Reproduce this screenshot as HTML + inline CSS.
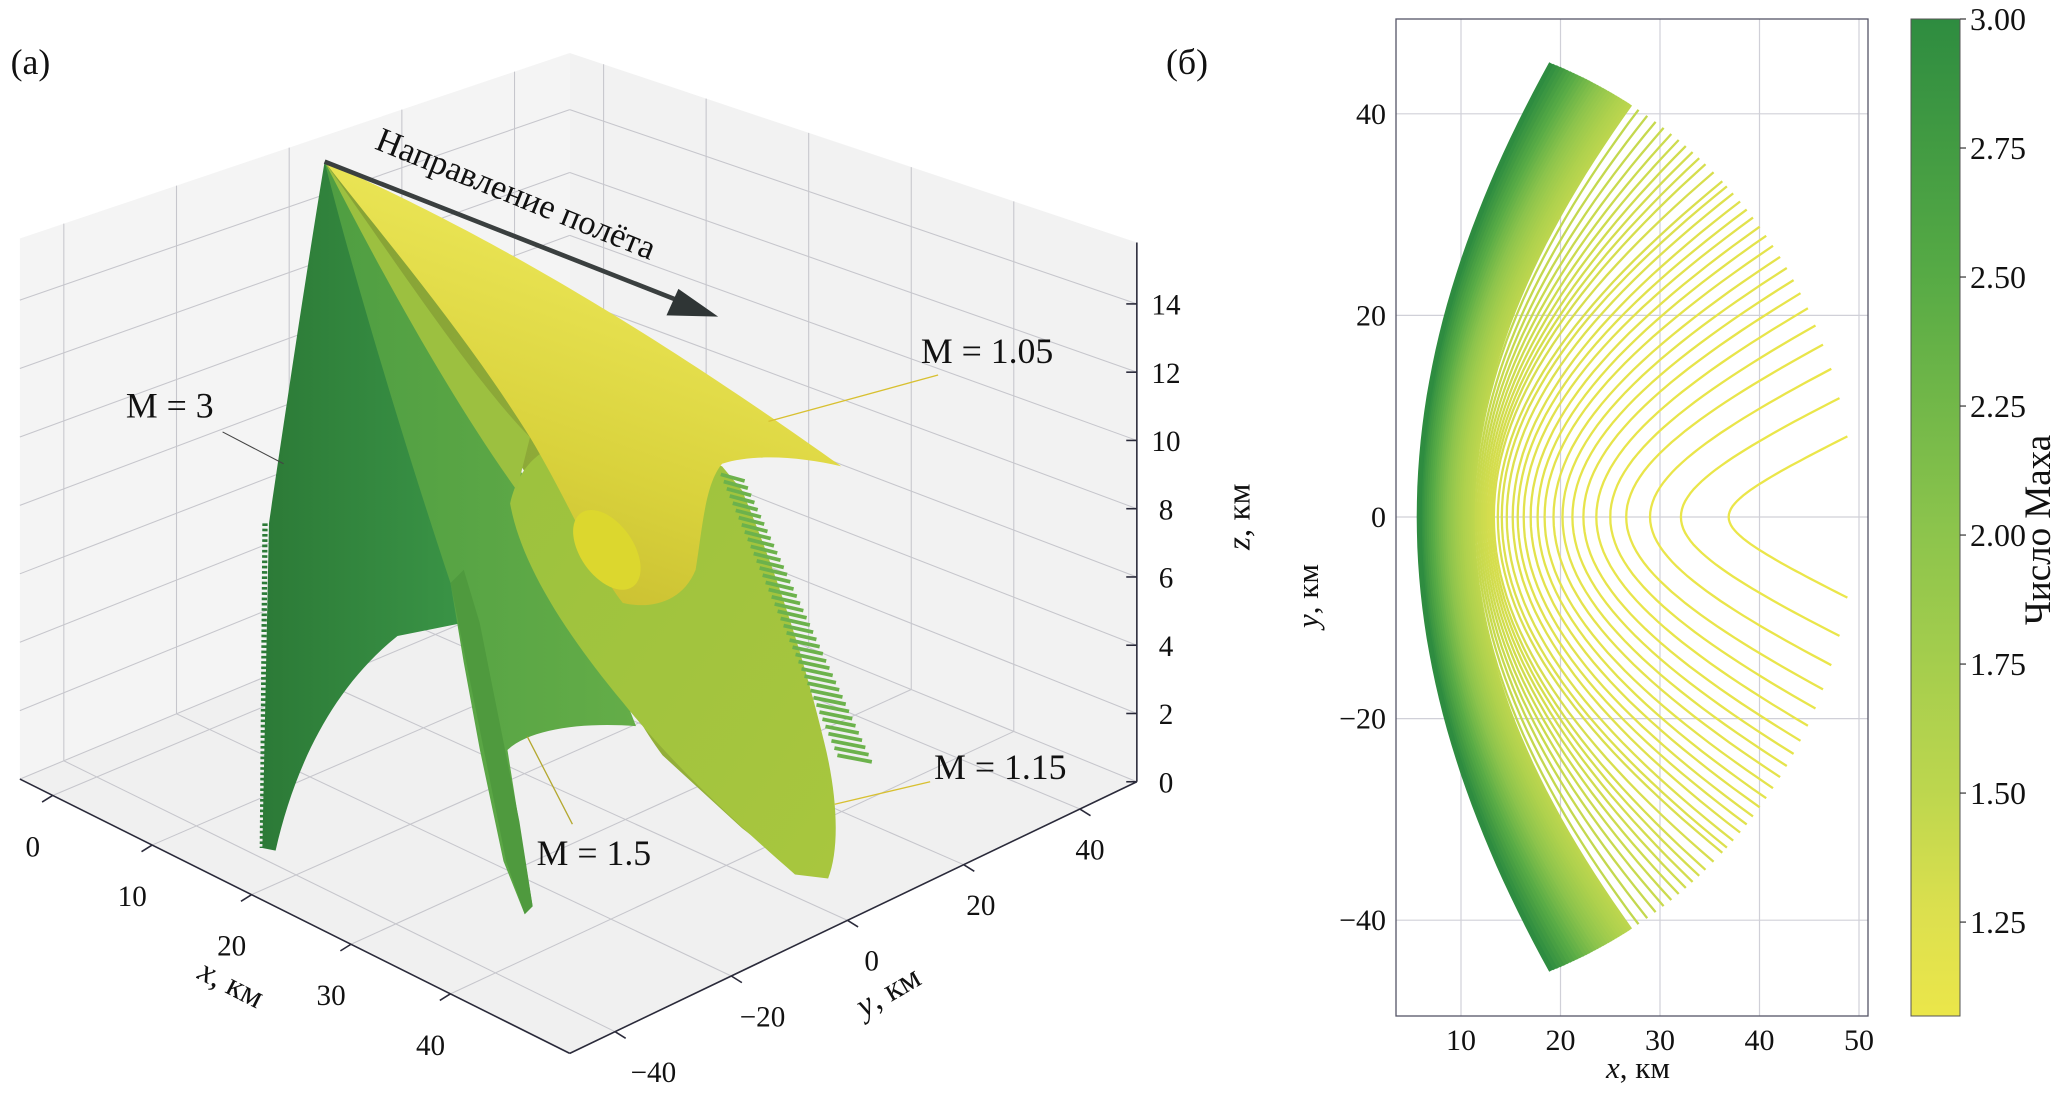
<!DOCTYPE html>
<html><head><meta charset="utf-8">
<style>
html,body{margin:0;padding:0;background:#fff;}
svg{display:block;font-family:"Liberation Serif",serif;}
</style></head>
<body>
<svg id="root" width="2067" height="1099" viewBox="0 0 2067 1099" xmlns="http://www.w3.org/2000/svg">
<defs>
<linearGradient id="gDark" x1="0" y1="0" x2="1" y2="0"><stop offset="0" stop-color="#2c7a37"/><stop offset="1" stop-color="#3a9446"/></linearGradient>
<linearGradient id="gMed" x1="0" y1="0" x2="1" y2="0"><stop offset="0" stop-color="#4f9e42"/><stop offset="1" stop-color="#64ad48"/></linearGradient>
<linearGradient id="gOlive" x1="0" y1="0" x2="1" y2="0"><stop offset="0" stop-color="#86a236"/><stop offset="1" stop-color="#98b43a"/></linearGradient>
<linearGradient id="gLight" x1="0" y1="0" x2="1" y2="1"><stop offset="0" stop-color="#9cc23e"/><stop offset="1" stop-color="#a8c63e"/></linearGradient>
<linearGradient id="gYel" x1="0" y1="1" x2="0.4" y2="0"><stop offset="0" stop-color="#c2b62c"/><stop offset="0.45" stop-color="#d9d23c"/><stop offset="1" stop-color="#efea5c"/></linearGradient>
<linearGradient id="gBar" x1="0" y1="1" x2="0" y2="0">
<stop offset="0" stop-color="#ebe64a"/><stop offset="0.0994" stop-color="#dde04e"/><stop offset="0.2288" stop-color="#bcd64e"/><stop offset="0.4876" stop-color="#8cc44c"/><stop offset="0.7464" stop-color="#56aa45"/><stop offset="1" stop-color="#2e8c40"/></linearGradient>
</defs>

<g id="left" transform="scale(1.325)">
  <g id="panes"></g>
  <g id="grid3d"></g>
  <g id="surfaces">
    <path fill="url(#gDark)" d="M245,122 C232,200 214,320 203,395 L198,640 L208,642 C222,580 250,520 300,480 L350,470 C330,380 300,250 245,122 Z"/>
    <path fill="none" stroke="#2c7a37" stroke-width="4" stroke-dasharray="2 2" d="M200,395 L198,640"/>
    <path fill="url(#gMed)" d="M245,122 C262,190 300,320 340,440 L350,500 L362,565 L380,650 L396,690 L402,684 L390,610 L383,566 C400,550 440,545 480,548 C450,470 410,380 330,240 Z"/>
    <path fill="#4f9a3e" d="M340,440 L352,500 L365,565 L382,650 L396,690 L402,684 L392,620 L380,560 L362,470 L350,430 Z"/>
    <path fill="url(#gOlive)" d="M245,122 C300,210 380,320 420,400 C445,470 470,530 500,570 L560,625 L605,660 L622,642 C560,560 500,470 460,380 C420,300 330,200 245,122 Z"/>
    <path fill="url(#gLight)" d="M385,380 C392,420 420,470 470,530 C510,580 560,625 600,660 L625,663 C634,640 632,600 622,560 C605,490 585,430 560,370 L545,352 C520,340 470,332 440,330 C410,335 392,350 385,380 Z"/>
    <path fill="#9cc040" d="M245,122 C300,200 360,290 400,330 L390,370 C340,300 290,210 245,122 Z"/>
    <path fill="url(#gYel)" d="M245,122 C330,160 450,220 635,352 C605,345 570,342 545,350 C532,365 530,400 525,430 C515,455 490,460 470,455 C450,430 430,380 400,330 C350,250 290,180 245,122 Z"/>
    <ellipse cx="458" cy="415" rx="20" ry="34" transform="rotate(-35 458 415)" fill="#dcd72e"/>
    <g id="hatch"></g>
  </g>
  <g id="axes3d"></g>
  <line x1="245" y1="122" x2="520" y2="230" stroke="#3a3f3f" stroke-width="3.5"/>
  <polygon points="542,239 503,238 512,218" fill="#2f3535"/>
  <text x="282" y="112" font-size="26" transform="rotate(22 282 112)" fill="#111">Направление полёта</text>
  <line x1="168" y1="326" x2="214" y2="350" stroke="#444" stroke-width="0.8"/>
  <line x1="580" y1="318" x2="708" y2="283" stroke="#d8c030" stroke-width="1"/>
  <line x1="630" y1="607" x2="702" y2="590" stroke="#d8c030" stroke-width="1"/>
  <line x1="398" y1="556" x2="432" y2="622" stroke="#b4a830" stroke-width="1"/>
  <text x="95" y="315" font-size="27" fill="#111">M = 3</text>
  <text x="695" y="274" font-size="27" fill="#111">M = 1.05</text>
  <text x="705" y="588" font-size="27" fill="#111">M = 1.15</text>
  <text x="405" y="653" font-size="27" fill="#111">M = 1.5</text>
  <text x="8" y="56" font-size="27" fill="#111">(а)</text>
  <text x="880" y="56" font-size="27" fill="#111">(б)</text>
  <text x="148" y="738" font-size="25" transform="rotate(27 148 738)" fill="#111"><tspan font-style="italic">x</tspan>, км</text>
  <text x="652" y="768" font-size="25" transform="rotate(-30 652 768)" fill="#111"><tspan font-style="italic">y</tspan>, км</text>
  <text x="943" y="390" font-size="25" text-anchor="middle" transform="rotate(-90 943 390)" fill="#111"><tspan font-style="italic">z</tspan>, км</text>
</g>

<g id="right">
  <rect x="1396" y="19" width="472" height="997" fill="#fff"/>
  <g id="grid2d"></g>
  <g id="curves"></g>
  <rect x="1396" y="19" width="472" height="997" fill="none" stroke="#556" stroke-width="1.3"/>
  <g id="ticks2d"></g>
  <text x="1638" y="1078" font-size="31" text-anchor="middle" fill="#111"><tspan font-style="italic">x</tspan>, км</text>
  <text x="1318" y="596" font-size="31" text-anchor="middle" transform="rotate(-90 1318 596)" fill="#111"><tspan font-style="italic">y</tspan>, км</text>
  <rect x="1911" y="19" width="49" height="997" fill="url(#gBar)" stroke="#555" stroke-width="1"/>
  <g id="cbticks"></g>
  <text x="2050" y="530" font-size="37" text-anchor="middle" transform="rotate(-90 2050 530)" fill="#111">Число Маха</text>
</g>
</svg>

<script>
// ---------- right panel data ----------
const vertexX = [5.8,5.95,6.1,6.3,6.5,6.7,6.9,7.1,7.3,7.5,7.7,7.9,8.1,8.3,8.5,8.7,8.9,9.1,9.3,9.5,9.7,9.9,10.1,10.3,10.5,10.7,10.9,11.1,11.3,11.5,11.7,11.9,12.1,12.3,12.5,12.7,12.9,13.1,13.3,13.7,14.1,14.6,15.2,15.7,16.3,17.0,17.7,18.4,19.3,20.2,21.2,22.3,23.6,25.0,26.6,29.0,32.1,36.9];
const endY = [45,44.85,44.7,44.55,44.4,44.25,44.1,43.95,43.8,43.65,43.5,43.35,43.2,43.05,42.9,42.75,42.6,42.45,42.3,42.15,42.0,41.85,41.7,41.55,41.4,41.25,41.1,40.95,40.4,39.8,39.2,38.6,38.0,37.4,36.8,36.2,35.6,35.0,34.2,33.3,32.8,32.1,31.3,30.5,29.7,28.8,27.9,26.9,25.8,24.7,23.5,22.2,20.7,19.0,17.1,14.7,11.8,8.0];
const mach = [3.0,2.92,2.84,2.76,2.68,2.6,2.53,2.46,2.39,2.32,2.25,2.19,2.13,2.07,2.01,1.96,1.91,1.86,1.81,1.77,1.73,1.69,1.65,1.61,1.58,1.55,1.52,1.49,1.46,1.44,1.42,1.40,1.38,1.36,1.34,1.32,1.31,1.30,1.29,1.27,1.25,1.23,1.21,1.19,1.18,1.17,1.16,1.15,1.14,1.13,1.12,1.11,1.10,1.09,1.08,1.07,1.06,1.05];
const xTicks = [10,20,30,40,50];
const yTicks = [40,20,0,-20,-40];
const cbTicks = [3.00,2.75,2.50,2.25,2.00,1.75,1.50,1.25];
const xTicks3d = [0,10,20,30,40];
const yTicks3d = [-40,-20,0,20,40];
const zTicks3d = [0,2,4,6,8,10,12,14];

const NS = "http://www.w3.org/2000/svg";
function mk(tag, attrs, parent){const e=document.createElementNS(NS,tag);for(const k in attrs)e.setAttribute(k,attrs[k]);parent.appendChild(e);return e;}

const sx = x => 1461 + (x-10)*9.95;
const sy = y => 517 - y*10.08;
const cbMin = 1.068, cbMax = 3.0;
const cy = m => 19 + (cbMax-m)/(cbMax-cbMin)*997;

const stops = [[1.05,[235,230,74]],[1.25,[221,224,78]],[1.5,[188,214,78]],[2.0,[140,196,76]],[2.5,[86,170,69]],[3.0,[46,140,64]]];
function cmap(m){
  for(let i=0;i<stops.length-1;i++){
    const a=stops[i],b=stops[i+1];
    if(m<=b[0]){const t=Math.max(0,(m-a[0])/(b[0]-a[0]));return 'rgb('+a[1].map((c,j)=>Math.round(c+(b[1][j]-c)*t)).join(',')+')';}
  }
  return 'rgb(46,140,64)';
}

const grid2d=document.getElementById('grid2d');
xTicks.forEach(v=>{
  const l=mk('line',{x1:sx(v),x2:sx(v),y1:19,y2:1016,stroke:'#d0d0d8','stroke-width':1.2},grid2d);
  
  
});
yTicks.forEach(v=>{
  const l=mk('line',{x1:1396,x2:1868,y1:sy(v),y2:sy(v),stroke:'#d0d0d8','stroke-width':1.2},grid2d);
  
  
});

const curves=document.getElementById('curves');
const R=48.5, cx0=1.0;
for(let i=vertexX.length-1;i>=0;i--){
  const xv=vertexX[i], ye=endY[i];
  const xe=cx0+Math.sqrt(R*R-ye*ye);
  const b=ye*(0.375+(ye-8)/37*1.6);
  const f=y=>Math.sqrt(1+(y/b)*(y/b))-1;
  const fe=f(ye);
  let d='';
  for(let k=0;k<=60;k++){
    const y=-ye+2*ye*k/60;
    const x=xv+(xe-xv)*f(y)/fe;
    d+=(k?'L':'M')+sx(x).toFixed(1)+','+sy(y).toFixed(1);
  }
  const p=mk('path',{d:d,fill:'none',stroke:cmap(mach[i]),'stroke-width':i<28?5:2.3},curves);
  
  
}

const ticks2d=document.getElementById('ticks2d');
xTicks.forEach(v=>{
  const t=mk('text',{x:sx(v),y:1050,'font-size':30,'text-anchor':'middle',fill:'#111'},ticks2d);t.textContent=v;
  
  
});
yTicks.forEach(v=>{
  const t=mk('text',{x:1386,y:sy(v)+10,'font-size':30,'text-anchor':'end',fill:'#111'},ticks2d);t.textContent=(v<0?'−':'')+Math.abs(v);
  
  
});
const cbt=document.getElementById('cbticks');
cbTicks.forEach(v=>{
  const l=mk('line',{x1:1960,x2:1966,y1:cy(v),y2:cy(v),stroke:'#333','stroke-width':1.2},cbt);
  
  
  const t=mk('text',{x:1970,y:cy(v)+11,'font-size':32,fill:'#111'},cbt);t.textContent=v.toFixed(2);
  
  
});

// ---------- 3D projection (preview units) ----------
const xr=[-3.3,52], yr=[-47.8,49.8], zmax=15.8;
const B00=[15,588],B10=[430,795],B11=[858,590],B01=[430,415];
const T00=[15,180],T10=[430,345],T11=[858,183],T01=[430,40];
function bil(a,b,c,d,u,v){return [a[0]*(1-u)*(1-v)+b[0]*u*(1-v)+d[0]*u*v+c[0]*(1-u)*v, a[1]*(1-u)*(1-v)+b[1]*u*(1-v)+d[1]*u*v+c[1]*(1-u)*v];}
function P(x,y,z){
  const u=(x-xr[0])/(xr[1]-xr[0]), v=(y-yr[0])/(yr[1]-yr[0]), w=z/zmax;
  const bt=bil(B00,B10,B01,B11,u,v), tp=bil(T00,T10,T01,T11,u,v);
  return [bt[0]+(tp[0]-bt[0])*w, bt[1]+(tp[1]-bt[1])*w];
}
const panes=document.getElementById('panes');
function poly(pts,fill,name){
  const e=mk('polygon',{points:pts.map(p=>p.join(',')).join(' '),fill:fill},panes);
  
  
}
poly([P(xr[0],yr[0],0),P(xr[0],yr[1],0),P(xr[0],yr[1],zmax),P(xr[0],yr[0],zmax)],'#f4f4f4','left-pane');
poly([P(xr[0],yr[1],0),P(xr[1],yr[1],0),P(xr[1],yr[1],zmax),P(xr[0],yr[1],zmax)],'#f2f2f2','right-pane');
poly([P(xr[0],yr[0],0),P(xr[1],yr[0],0),P(xr[1],yr[1],0),P(xr[0],yr[1],0)],'#f0f0f0','floor-pane');

const g3=document.getElementById('grid3d');
function gl(a,b,name){
  const l=mk('line',{x1:a[0],y1:a[1],x2:b[0],y2:b[1],stroke:'#c6c6cc','stroke-width':0.8},g3);
  
  
}
yTicks3d.forEach(y=>{gl(P(xr[0],y,0),P(xr[0],y,zmax),'left-pane-gridline');gl(P(xr[0],y,0),P(xr[1],y,0),'floor-gridline');});
xTicks3d.forEach(x=>{gl(P(x,yr[1],0),P(x,yr[1],zmax),'right-pane-gridline');gl(P(x,yr[0],0),P(x,yr[1],0),'floor-gridline');});
zTicks3d.forEach(z=>{gl(P(xr[0],yr[0],z),P(xr[0],yr[1],z),'left-pane-gridline');gl(P(xr[0],yr[1],z),P(xr[1],yr[1],z),'right-pane-gridline');});

const hatch=document.getElementById('hatch');
for(let k=0;k<40;k++){
  const t=k/39;
  const x0=544+t*(88), y0=358+t*212;
  const r=mk('line',{x1:x0,y1:y0,x2:x0+18+t*8,y2:y0+5,stroke:'#6cb24c','stroke-width':2.8},hatch);
  
  
}

const a3=document.getElementById('axes3d');
function al(a,b,name,w){
  const l=mk('line',{x1:a[0],y1:a[1],x2:b[0],y2:b[1],stroke:'#2a2a3a','stroke-width':w||1.2},a3);
  
  
}
al(P(xr[0],yr[0],0),P(xr[1],yr[0],0),'x-axis-line');
al(P(xr[1],yr[0],0),P(xr[1],yr[1],0),'y-axis-line');
al(P(xr[1],yr[1],0),P(xr[1],yr[1],zmax),'z-axis-line');
function tl(x,y,s,name){
  const t=mk('text',{x:x,y:y,'font-size':22,'text-anchor':'middle',fill:'#111'},a3);t.textContent=s;
  
  
}
xTicks3d.forEach(x=>{const p=P(x,yr[0],0);al(p,[p[0]-8,p[1]+5],'x-tick');tl(p[0]-15,p[1]+46,String(x),'x-tick-label-3d');});
yTicks3d.forEach(y=>{const p=P(xr[1],y,0);const v=(y-yr[0])/(yr[1]-yr[0]);al(p,[p[0]+8,p[1]+5],'y-tick');tl(p[0]+31-26*v,p[1]+38,(y<0?'−':'')+Math.abs(y),'y-tick-label-3d');});
zTicks3d.forEach(z=>{const p=P(xr[1],yr[1],z);al(p,[p[0]-8,p[1]],'z-tick');tl(p[0]+22,p[1]+8,String(z),'z-tick-label-3d');});
</script>
</body></html>
